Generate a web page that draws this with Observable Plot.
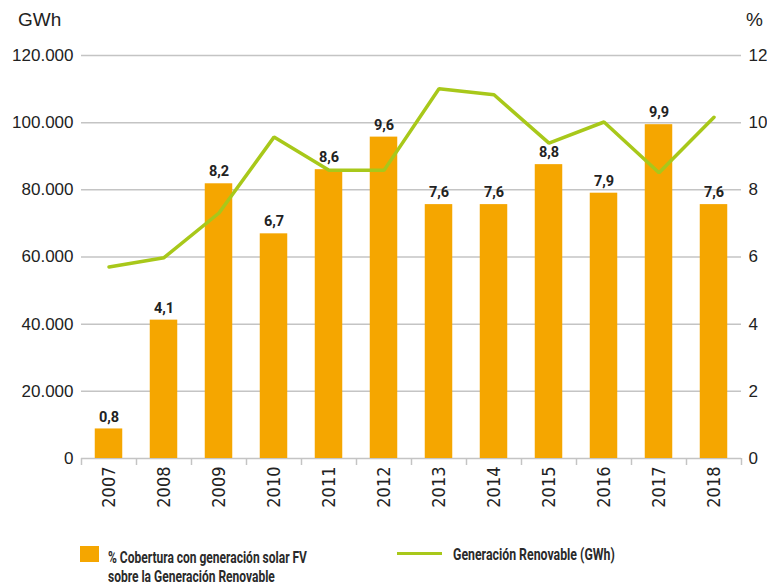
<!DOCTYPE html>
<html>
<head>
<meta charset="utf-8">
<script src="https://cdn.jsdelivr.net/npm/d3@7"></script>
<script src="https://cdn.jsdelivr.net/npm/@observablehq/plot@0.6"></script>
<style>
  body { margin: 0; background: #fff; }
  #wrap { position: relative; width: 767px; height: 587px; font-family: "Liberation Sans", Arial, sans-serif; color: #222; }
  .unit { position: absolute; top: 9px; font-size: 19px; line-height: 22px; color: #222; font-family: "Liberation Sans", Arial, sans-serif; }
  .leg { position: absolute; font-family: Roboto, "Liberation Sans", sans-serif; font-weight: bold; font-size: 16px; color: #2a2a2a; line-height: 19px; white-space: nowrap; transform-origin: 0 0; transform: scaleX(0.75); }
</style>
</head>
<body>
<div id="wrap">
  <div id="chart"></div>
  <div class="unit" style="left:18px;">GWh</div>
  <div class="unit" style="left:746px;">%</div>
  <div style="position:absolute; left:80px; top:546px; width:19px; height:16px; background:#f5a600;"></div>
  <div class="leg" style="left:108px; top:548px;">% Cobertura con generación solar FV<br>sobre la Generación Renovable</div>
  <div style="position:absolute; left:397px; top:552px; width:45px; height:3px; background:#a8c81a;"></div>
  <div class="leg" style="left:453px; top:545px; transform: scaleX(0.77);">Generación Renovable (GWh)</div>
</div>
<script>
const years = [2007, 2008, 2009, 2010, 2011, 2012, 2013, 2014, 2015, 2016, 2017, 2018];
// % coverage (bar heights as drawn) and their printed labels
const coverage = [0.88, 4.12, 8.18, 6.69, 8.6, 9.57, 7.56, 7.56, 8.75, 7.9, 9.94, 7.56];
const coverageLabels = ["0,8", "4,1", "8,2", "6,7", "8,6", "9,6", "7,6", "7,6", "8,8", "7,9", "9,9", "7,6"];
// Renewable generation (GWh)
const renewable = [57000, 59800, 73100, 95700, 85800, 85800, 110100, 108300, 93900, 100200, 85100, 101600];
const leftTicks = [0, 20000, 40000, 60000, 80000, 100000, 120000];
const rightTicks = [0, 2, 4, 6, 8, 10, 12];

const factor = 10000; // 1 % on right axis == 10.000 GWh on left axis
const data = years.map((y, i) => ({year: y, pct: coverage[i], label: coverageLabels[i], gen: renewable[i]}));
const bounds = [...years.map(y => y - 0.5), years[years.length - 1] + 0.5];

const es = d3.formatLocale({decimal: ",", thousands: ".", grouping: [3], currency: ["", ""]});
const fmt = es.format(",");

const chart = Plot.plot({
  width: 767,
  height: 530,
  marginLeft: 81,
  marginRight: 26,
  marginTop: 55,
  marginBottom: 72,
  style: {fontFamily: "Liberation Sans, Arial, sans-serif", color: "#222", background: "#fff"},
  x: {domain: [2006.5, 2018.5]},
  y: {domain: [0, 120000]},
  marks: [
    Plot.gridY(leftTicks, {stroke: "#c4c4c4", strokeOpacity: 1, strokeWidth: 1.5}),
    Plot.axisY({ticks: leftTicks, tickSize: 0, tickPadding: 8, tickFormat: fmt, fontSize: 17, label: null}),
    Plot.axisY({anchor: "right", ticks: rightTicks.map(t => t * factor), tickSize: 0, tickPadding: 7, tickFormat: d => String(d / factor), fontSize: 17, label: null}),
    Plot.axisX({ticks: bounds, tickFormat: () => "", tickSize: 7, stroke: "#c4c4c4", strokeWidth: 1.5, label: null}),
    Plot.axisX({ticks: years, tickSize: 0, tickPadding: 8, tickRotate: -90, tickFormat: d => String(d), fontSize: 18, fontFamily: "Liberation Sans Narrow, DejaVu Sans Condensed, sans-serif", label: null}),
    Plot.rectY(data, {x1: d => d.year - 0.25, x2: d => d.year + 0.25, y1: 0, y2: d => d.pct * factor, fill: "#f5a600"}),
    Plot.lineY(data, {x: "year", y: "gen", stroke: "#a8c81a", strokeWidth: 3.5, strokeLinejoin: "miter"}),
    Plot.text(data, {x: "year", y: d => d.pct * factor, text: "label", dy: -12, fontSize: 14.5, fontWeight: "bold", fontFamily: "Roboto, sans-serif", fill: "#222"})
  ]
});
document.getElementById("chart").appendChild(chart);
</script>
</body>
</html>
